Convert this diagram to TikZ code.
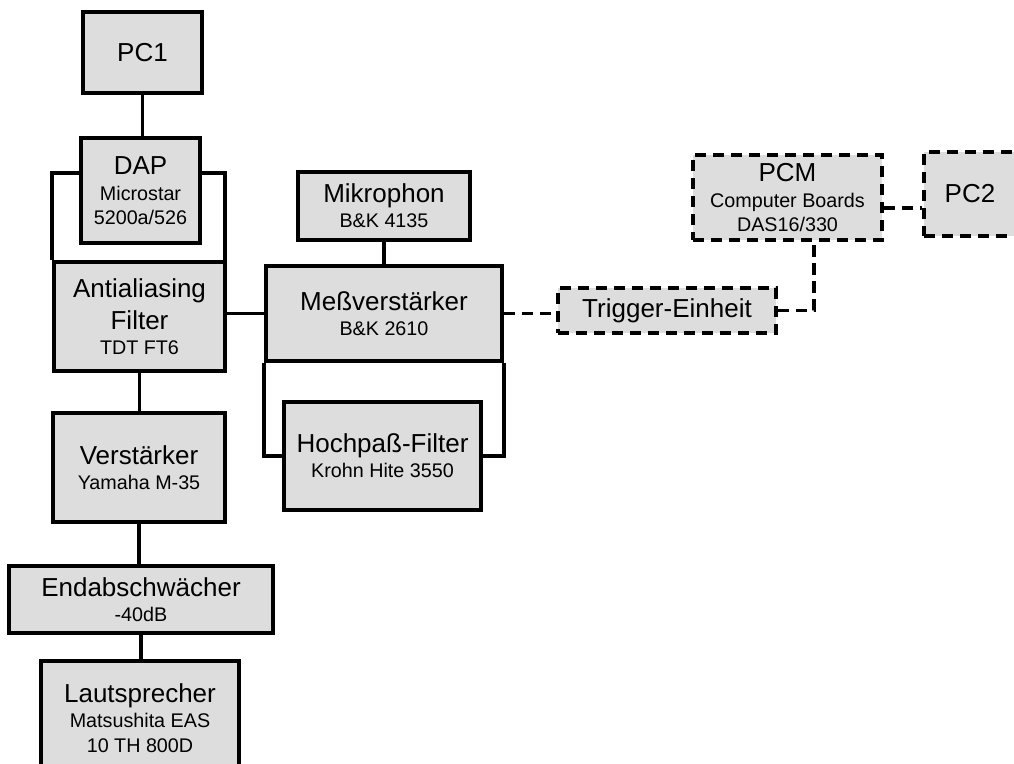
\documentclass[tikz,border=0pt]{standalone}
\usepackage{fontspec}
\setmainfont{Liberation Sans}
\usepackage{tikz}
\usetikzlibrary{positioning}
\definecolor{boxgray}{RGB}{221,221,221}
\newcommand{\bigf}{\fontsize{19.5}{24}\selectfont}
\newcommand{\smallf}{\fontsize{14.8}{18}\selectfont}
\tikzset{
  box/.style 2 args={draw, fill=boxgray, line width=2.8pt, inner sep=0pt, align=center,
    font=\bigf, minimum width=#1*0.75pt, minimum height=#2*0.75pt},
  link/.style={line width=2.8pt},
  opt/.style={dash pattern=on 8.5pt off 5pt}
}

\begin{document}
\begin{tikzpicture}[x=0.75pt, y=-0.75pt]
    \useasboundingbox (0, 0) rectangle (1014, 764);

    \node (pc1) at (142.5, 52.5) [box={119}{81}] {PC1};
    \node (dap) at (140.5, 190.5) [box={119}{105}] {DAP\\[-5pt] \smallf Microstar\\[-6pt] \smallf 5200a/526};
    \node (aaf) at (139.5, 316.5) [box={171}{109}] {Antialiasing\\ Filter\\[-5pt] \smallf TDT FT6};
    \node (verst) at (139, 467.5) [box={172}{109}] {Verstärker\\[-5pt] \smallf Yamaha M-35};
    \node (endab) at (141, 599.5) [box={264}{67}] {Endabschwächer\\[-5pt] \smallf -40dB};
    \node (laut) at (140, 718) [box={198}{114}] {Lautsprecher\\[-5pt] \smallf Matsushita EAS\\[-6pt] \smallf 10 TH 800D};

    \node (mikro) at (384, 206) [box={172}{68}] {Mikrophon\\[-5pt] \smallf B\&K 4135};
    \node (mess) at (384, 313.5) [box={236}{95}] {Meßverstärker\\[-5pt] \smallf B\&K 2610};
    \node (hoch) at (382.5, 456) [box={197}{108}] {Hochpaß-Filter\\[-5pt] \smallf Krohn Hite 3550};

    \node (trig) at (667, 310.5) [box={218}{45}, opt] {Trigger-Einheit};
    \node (pcm) at (787.5, 197.5) [box={189}{85}, opt] {PCM\\[-5pt] \smallf Computer Boards\\[-6pt] \smallf DAS16/330};
    \node (pc2) at (970, 194) [box={92}{84}, opt] {PC2};

    \draw [link] (pc1.south) -- (pc1.south |- dap.north);
    \draw [link] ([yshift=13.1pt]dap.west) -| (aaf.north west);
    \draw [link] ([yshift=13.1pt]dap.east) -| ([xshift=-1.5pt]aaf.north east);
    \draw [link] (aaf.south) -- (aaf.south |- verst.north);
    \draw [link] (verst.south) -- (verst.south |- endab.north);
    \draw [link] (endab.south) -- (endab.south |- laut.north);

    \draw [link] (mess.west -| aaf.east) -- (mess.west);
    \draw [link] (mikro.south) -- (mess.north);
    \draw [link] (mess.south west) |- (hoch.west);
    \draw [link] (mess.south east) |- (hoch.east);

    \draw [link, opt] (mess.east) -- (mess.east -| trig.west);
    \draw [link, opt] (trig.east) -| ([xshift=19.9pt]pcm.south);
    \draw [link, opt] ([yshift=-7.9pt]pcm.east) -- ([yshift=-7.9pt]pcm.east -| pc2.west);
\end{tikzpicture}
\end{document}
